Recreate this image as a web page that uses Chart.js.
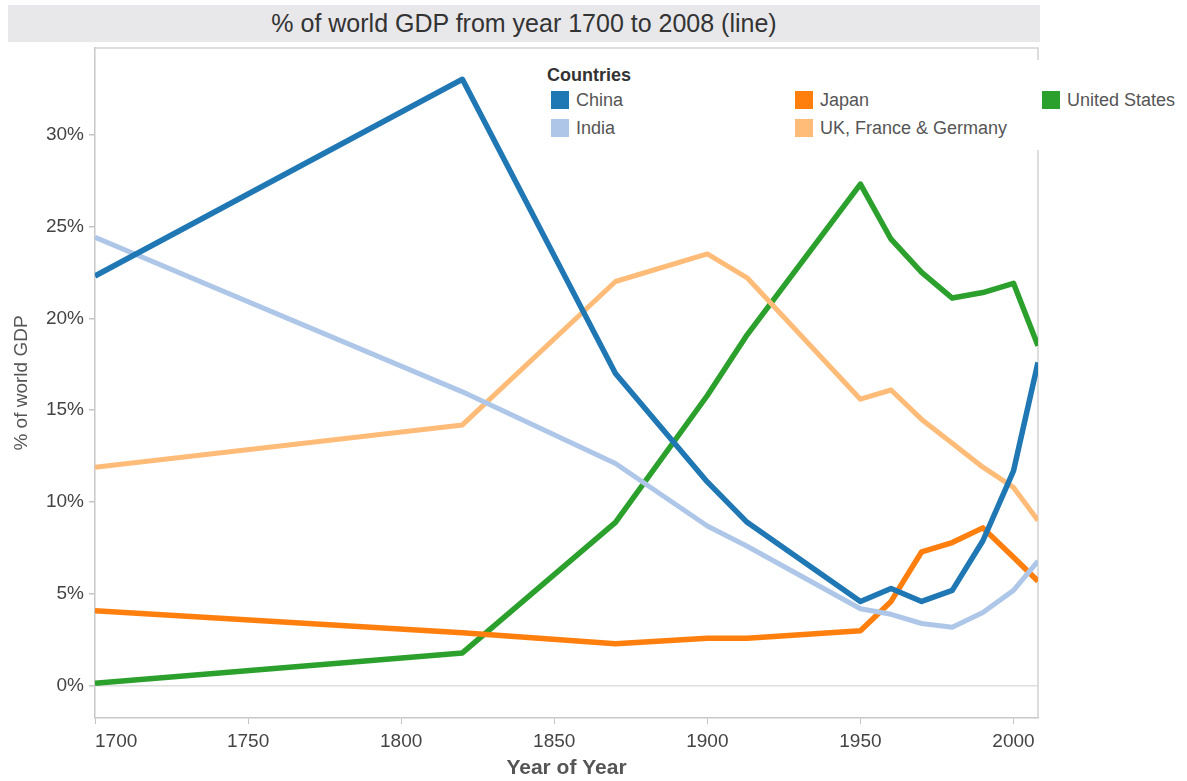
<!DOCTYPE html>
<html>
<head>
<meta charset="utf-8">
<script src="https://cdn.jsdelivr.net/npm/chart.js@4.4.0/dist/chart.umd.min.js"></script>
<style>
  body { margin: 0; background: #fff; font-family: "Liberation Sans", Arial, sans-serif; }
  #wrap { position: relative; width: 1187px; height: 781px; }
  #title { position: absolute; left: 8px; top: 5px; width: 1032px; height: 37px; background: #e8e8ea;
           color: #333; font-size: 25px; line-height: 37px; text-align: center; }
  #legend { position: absolute; left: 540px; top: 60px; width: 647px; height: 90px; background: #fff; }
  #legend .head { position: absolute; left: 7px; top: 5px; font-size: 18px; font-weight: bold; color: #333; }
  #legend .item { position: absolute; font-size: 18px; color: #555; line-height: 18px; white-space: nowrap; }
  #legend .sw { display: inline-block; width: 18px; height: 18px; vertical-align: top; margin-right: 7px; }
</style>
</head>
<body>
<div id="wrap">
  <canvas id="c" width="1187" height="781"></canvas>
  <div id="title">% of world GDP from year 1700 to 2008 (line)</div>
  <div id="legend"><div class="head">Countries</div></div>
</div>
<script>
// share of world GDP (%), by year
const years = [1700, 1820, 1870, 1900, 1913, 1950, 1960, 1970, 1980, 1990, 2000, 2008];
const china = [22.3, 33.0, 17.0, 11.1, 8.9, 4.6, 5.3, 4.6, 5.2, 7.9, 11.7, 17.6];
const india = [24.4, 16.0, 12.1, 8.7, 7.6, 4.2, 3.9, 3.4, 3.2, 4.0, 5.2, 6.8];
const japan = [4.1, 2.9, 2.3, 2.6, 2.6, 3.0, 4.6, 7.3, 7.8, 8.6, 7.0, 5.7];
const ukFranceGermany = [11.9, 14.2, 22.0, 23.5, 22.2, 15.6, 16.1, 14.5, 13.2, 11.9, 10.8, 9.0];
const unitedStates = [0.15, 1.8, 8.9, 15.8, 19.1, 27.3, 24.3, 22.5, 21.1, 21.4, 21.9, 18.5];

const countryNames = ['China', 'India', 'Japan', 'UK, France & Germany', 'United States'];
const countryValues = [china, india, japan, ukFranceGermany, unitedStates];
const countryColors = ['#1f77b4', '#aec7e8', '#ff7f0e', '#ffbb78', '#2ca02c'];

const xTicks = [1700, 1750, 1800, 1850, 1900, 1950, 2000];
const yTicks = [0, 5, 10, 15, 20, 25, 30];

// legend, three columns
const legendPos = [[11, 31], [11, 59], [255, 31], [255, 59], [502, 31]];
const legend = document.getElementById('legend');
countryNames.forEach((name, i) => {
    const item = document.createElement('div');
    item.className = 'item';
    item.style.left = legendPos[i][0] + 'px';
    item.style.top = legendPos[i][1] + 'px';
    const sw = document.createElement('span');
    sw.className = 'sw';
    sw.style.background = countryColors[i];
    item.appendChild(sw);
    item.appendChild(document.createTextNode(name));
    legend.appendChild(item);
});

// top and right edges of the plot frame
const frame = {
    id: 'frame',
    beforeDatasetsDraw(chart) {
        const a = chart.chartArea, ctx = chart.ctx;
        ctx.save();
        ctx.strokeStyle = '#d2d2d2';
        ctx.lineWidth = 1.5;
        ctx.beginPath();
        ctx.moveTo(a.left, a.top);
        ctx.lineTo(a.right, a.top);
        ctx.lineTo(a.right, a.bottom);
        ctx.stroke();
        ctx.restore();
    }
};

const tickFont = { family: '"Liberation Sans", Arial, sans-serif', size: 19 };

new Chart(document.getElementById('c'), {
    type: 'line',
    data: {
        datasets: countryNames.map((name, i) => ({
            label: name,
            data: years.map((y, j) => ({ x: y, y: countryValues[i][j] })),
            borderColor: countryColors[i],
            backgroundColor: countryColors[i],
            borderWidth: i === 1 || i === 3 ? 5 : 5.5,
            borderJoinStyle: 'round',
            pointRadius: 0,
            tension: 0
        }))
    },
    options: {
        responsive: false,
        animation: false,
        devicePixelRatio: 1,
        layout: { padding: { top: 48, right: 149, left: 0, bottom: 0 } },
        plugins: { legend: { display: false }, title: { display: false }, tooltip: { enabled: false } },
        scales: {
            x: {
                type: 'linear',
                min: 1700,
                max: 2008,
                afterBuildTicks: s => { s.ticks = xTicks.concat([2008]).map(v => ({ value: v })); },
                afterFit: s => { s.height = 63; },
                ticks: {
                    align: 'inner',
                    padding: 6,
                    color: '#444',
                    font: tickFont,
                    callback: v => (v === 2008 ? '' : String(v))
                },
                grid: {
                    drawOnChartArea: false,
                    tickLength: 6,
                    tickColor: c => (c.tick && c.tick.value === 2008 ? 'rgba(0,0,0,0)' : '#c4c4c4')
                },
                border: { color: '#c8c8c8', width: 1.5 },
                title: {
                    display: true,
                    text: 'Year of Year',
                    color: '#555',
                    font: { family: '"Liberation Sans", Arial, sans-serif', size: 21, weight: 'bold' },
                    padding: { top: 0, bottom: 0 }
                }
            },
            y: {
                min: -1.74,
                max: 34.7,
                afterBuildTicks: s => { s.ticks = yTicks.map(v => ({ value: v })); },
                afterFit: s => { s.width = 95; },
                ticks: {
                    padding: 5,
                    color: '#444',
                    font: tickFont,
                    callback: v => v + '%'
                },
                grid: {
                    color: c => (c.tick && c.tick.value === 0 ? '#dedede' : 'rgba(0,0,0,0)'),
                    lineWidth: 1.5,
                    tickLength: 6,
                    tickColor: '#c4c4c4'
                },
                border: { color: '#c8c8c8', width: 1.5 },
                title: {
                    display: true,
                    text: '% of world GDP',
                    color: '#555',
                    font: { family: '"Liberation Sans", Arial, sans-serif', size: 19 },
                    padding: { top: 10, bottom: 0 }
                }
            }
        }
    },
    plugins: [frame]
});
</script>
</body>
</html>
